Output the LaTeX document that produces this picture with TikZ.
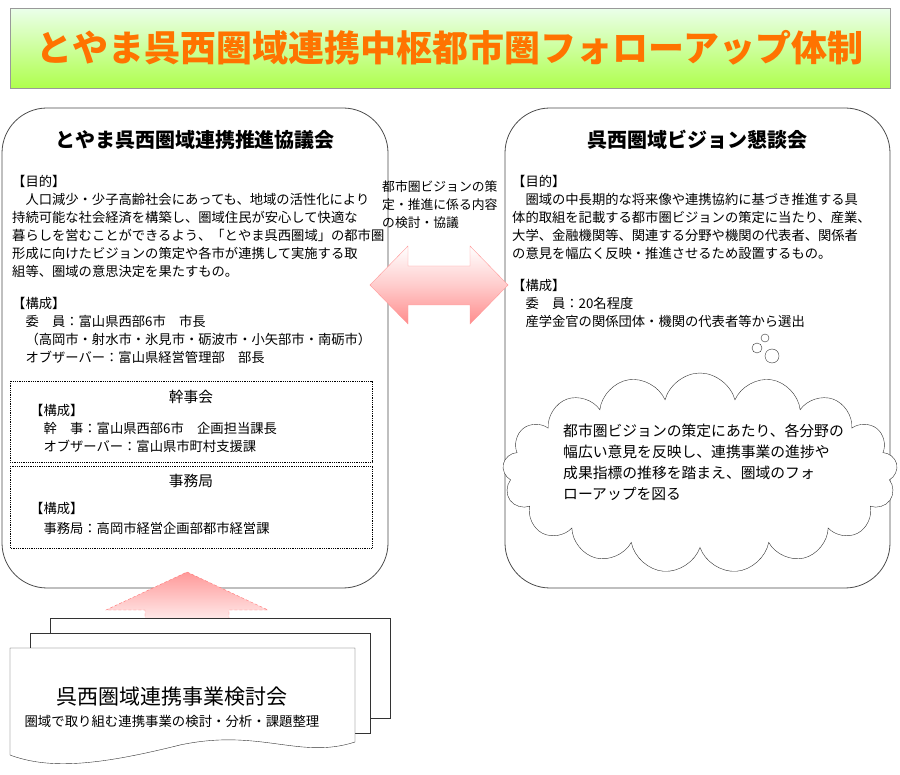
\documentclass[tikz,border=0pt]{standalone}
\usepackage{fontspec}
\setmainfont{Noto Sans CJK JP}
\usetikzlibrary{positioning}
\usetikzlibrary{calc}
\usetikzlibrary{shapes.geometric, shapes.symbols, arrows}

\begin{document}
\begin{tikzpicture}[x=1pt, y=-1pt]
    \tikzstyle{panel} = [draw=black!70, thick, fill=white, rounded corners=45pt]
    \tikzstyle{dotbox} = [draw=black, densely dotted, thick]
    \tikzstyle{body} = [anchor=north west, align=left, inner sep=0pt, font=\fontsize{13.3pt}{18pt}\selectfont]
    \tikzstyle{head} = [font=\fontsize{20pt}{22pt}\selectfont\bfseries]
    \tikzstyle{sheet} = [draw=black!80, fill=white]

    \useasboundingbox (0,0) rectangle (900,775);

    % title bar
    \node (title) [draw=black!40, top color=green!8!white, bottom color=green!45!yellow!70!white,
        minimum width=880pt, minimum height=80pt, anchor=north west,
        font=\fontsize{36pt}{38pt}\selectfont\bfseries, text=orange!90!red]
        at (10,8) {とやま呉西圏域連携中枢都市圏フォローアップ体制};

    % left council
    \draw[panel] (2,108) rectangle (388,588);
    \node (lhead) [head] at (195,140) {とやま呉西圏域連携推進協議会};
    \node (lbody) [body] at (12,175) {【目的】\\
        \hspace*{1em}人口減少・少子高齢社会にあっても、地域の活性化により\\
        持続可能な社会経済を構築し、圏域住民が安心して快適な\\
        暮らしを営むことができるよう、「とやま呉西圏域」の都市圏\\
        形成に向けたビジョンの策定や各市が連携して実施する取\\
        組等、圏域の意思決定を果たすもの。\\[14pt]
        【構成】\\
        \hspace*{1em}委\hspace{1em}員：富山県西部6市\hspace{1em}市長\\
        \hspace*{1em}（高岡市・射水市・氷見市・砺波市・小矢部市・南砺市）\\
        \hspace*{1em}オブザーバー：富山県経営管理部\hspace{1em}部長};

    \draw[dotbox] (10,381) rectangle (372,462);
    \node (kanji) [font=\fontsize{14.7pt}{16pt}\selectfont] at (191,397) {幹事会};
    \node (kbody) [body] at (30,404) {【構成】\\
        \hspace*{1em}幹\hspace{1em}事：富山県西部6市\hspace{1em}企画担当課長\\
        \hspace*{1em}オブザーバー：富山県市町村支援課};

    \draw[dotbox] (10,466) rectangle (372,548);
    \node (jimu) [font=\fontsize{14.7pt}{16pt}\selectfont] at (191,481) {事務局};
    \node (jbody) [body, font=\fontsize{13.3pt}{20pt}\selectfont] at (30,502) {【構成】\\
        \hspace*{1em}事務局：高岡市経営企画部都市経営課};

    % right council
    \draw[panel] (505,108) rectangle (890,588);
    \node (rhead) [head] at (697,140) {呉西圏域ビジョン懇談会};
    \node (rbody) [body] at (512,175) {【目的】\\
        \hspace*{1em}圏域の中長期的な将来像や連携協約に基づき推進する具\\
        体的取組を記載する都市圏ビジョンの策定に当たり、産業、\\
        大学、金融機関等、関連する分野や機関の代表者、関係者\\
        の意見を幅広く反映・推進させるため設置するもの。\\[14pt]
        【構成】\\
        \hspace*{1em}委\hspace{1em}員：20名程度\\
        \hspace*{1em}産学金官の関係団体・機関の代表者等から選出};

    % cloud
    \node (cloud) [cloud, cloud puffs=17, aspect=2.2, draw=black!80, fill=white,
        minimum width=395pt, minimum height=200pt] at (700,473) {};
    \node (bub1) [circle, draw=black!80, fill=white, minimum size=14pt, inner sep=0pt] at (772,356) {};
    \node (bub2) [circle, draw=black!80, fill=white, minimum size=10pt, inner sep=0pt] at (757,348) {};
    \node (bub3) [circle, draw=black!80, fill=white, minimum size=8pt, inner sep=0pt] at (765,338) {};
    \node (ctext) [body, font=\fontsize{14.8pt}{21pt}\selectfont] at (563,424)
        {都市圏ビジョンの策定にあたり、各分野の\\幅広い意見を反映し、連携事業の進捗や\\成果指標の推移を踏まえ、圏域のフォ\\ローアップを図る};

    % middle
    \node (mtext) [body, font=\fontsize{12.8pt}{18pt}\selectfont] at (382,180)
        {都市圏ビジョンの策\\定・推進に係る内容\\の検討・協議};
    \draw[draw=red!40, top color=white, bottom color=red!45, middle color=red!20]
        (370,285) -- (408,246) -- (408,266) -- (470,266) -- (470,246) -- (508,285)
        -- (470,324) -- (470,305) -- (408,305) -- (408,324) -- cycle;

    % up arrow
    \draw[draw=red!55, densely dashed, top color=red!40, bottom color=white]
        (187,572) -- (268,610) -- (229,610) -- (229,632) -- (145,632) -- (145,610) -- (106,610) -- cycle;

    % stacked sheets
    \foreach \d in {2,1} {
        \draw[sheet] ($(10,648)+(\d*20,-\d*15)$) rectangle ++(340,100);
    }
    \draw[sheet] (10,648) -- (355,648) -- (355,742)
        .. controls (300,760) and (260,728) .. (180,745)
        .. controls (100,765) and (50,770) .. (10,755) -- cycle;
    \node (dhead) [font=\fontsize{21pt}{23pt}\selectfont] at (172,697) {呉西圏域連携事業検討会};
    \node (dsub) [font=\fontsize{13.4pt}{15pt}\selectfont] at (172,721) {圏域で取り組む連携事業の検討・分析・課題整理};
\end{tikzpicture}
\end{document}
